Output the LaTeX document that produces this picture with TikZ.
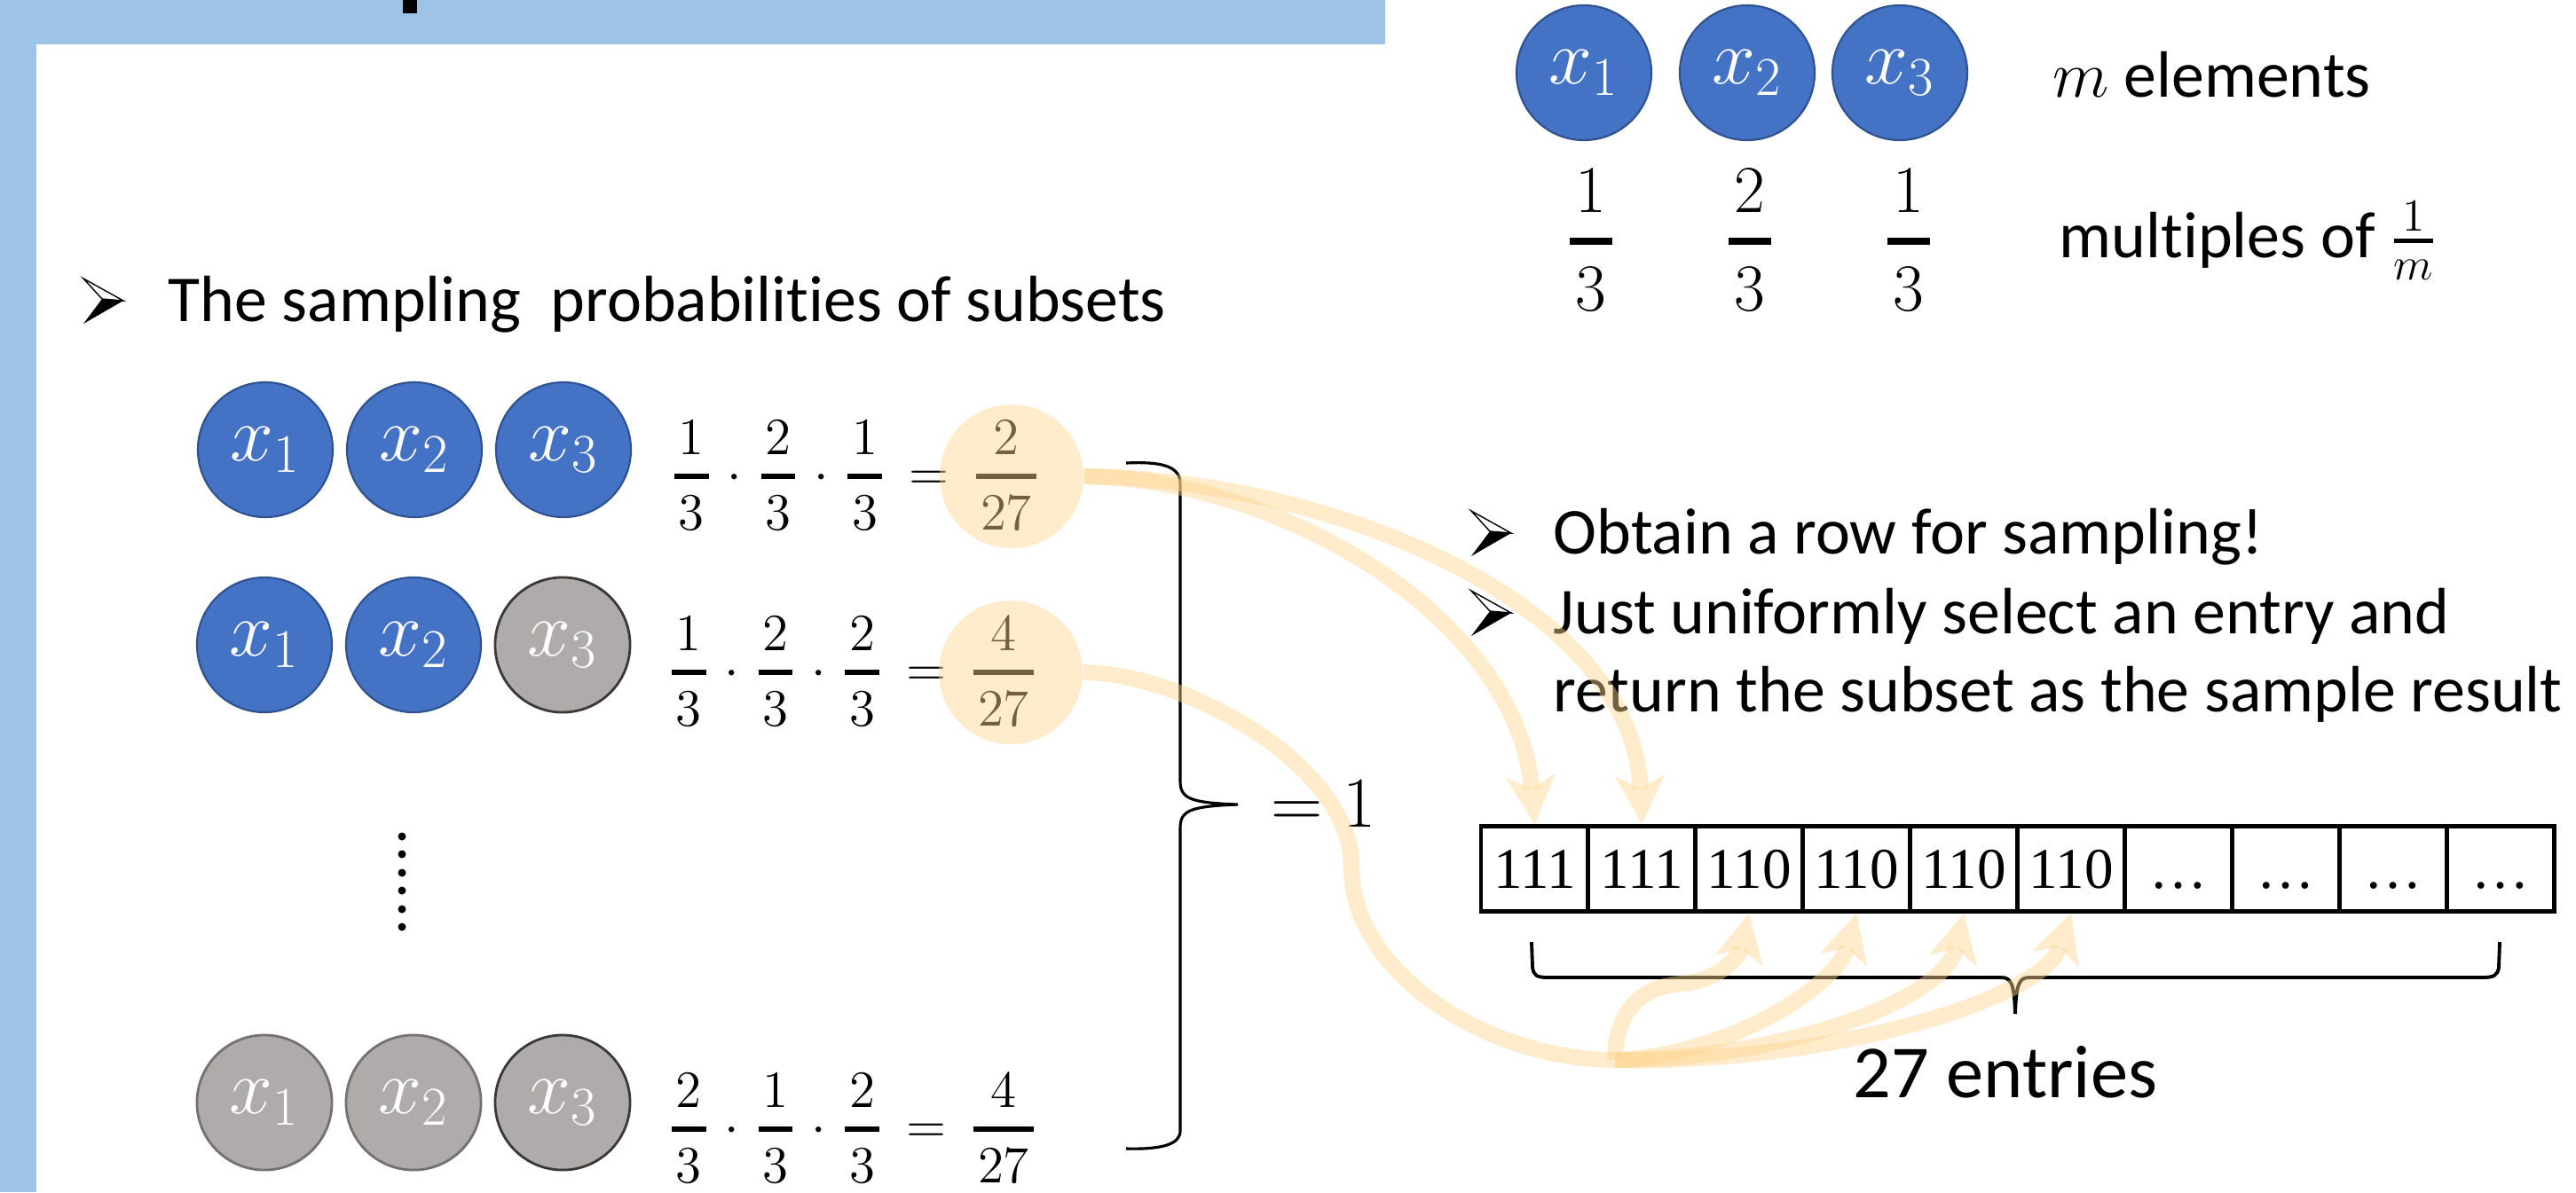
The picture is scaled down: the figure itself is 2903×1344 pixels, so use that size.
\RequirePackage{fix-cm}
\documentclass[tikz,border=0pt]{standalone}
\usepackage{amsmath}
\usepackage[no-math]{fontspec}
\setmainfont{Carlito}[Ligatures=NoCommon]
\newfontfamily\cellfont{Liberation Serif}
\usetikzlibrary{arrows.meta}

\definecolor{bandblue}{RGB}{157,195,230}
\definecolor{elemblue}{RGB}{68,114,196}
\definecolor{elemrim}{RGB}{47,82,143}
\definecolor{offgray}{RGB}{175,171,171}
\definecolor{offrim}{RGB}{59,56,56}
\definecolor{offrimlight}{RGB}{118,113,113}
\definecolor{hlorange}{RGB}{255,213,142}

% fraction with a heavy bar
\newcommand{\pf}[3][1.8pt]{\genfrac{}{}{#1}{0}{\mkern1.5mu#2\mkern1.5mu}{\mkern1.5mu#3\mkern1.5mu}}
% wider spacing round the dots and the equals sign
\newcommand{\probspace}{\medmuskip=5.2mu\relax\thickmuskip=8mu\relax}

% arrowhead bullet, top left corner given
\newcommand{\ptrbullet}[1]{%
  \begin{scope}[shift={#1}]
    \filldraw[fill=white, line width=0.4pt] (0,0) -- (45,25) -- (21,23) -- cycle;
    \fill (21,23) -- (45,25) -- (0,51) -- cycle;
  \end{scope}}

\tikzset{
  txt/.style={inner sep=0pt, font=\fontsize{21}{25}\selectfont},
  elem/.style={circle, minimum size=1.52cm, inner sep=0pt, fill=elemblue,
    draw=elemrim, line width=0.6pt, text=white, font=\fontsize{25}{29}\selectfont},
  offelem/.style={elem, fill=offgray, draw=offrim, line width=0.8pt},
  prob/.style={inner sep=0pt, anchor=base west, font=\fontsize{16.8}{20}\selectfont},
  weight/.style={inner sep=0pt, anchor=base, font=\fontsize{21.5}{26}\selectfont},
  cellbox/.style={draw, line width=1.4pt, minimum width=1.209cm, minimum height=0.955cm,
    inner sep=0pt, text height=12.6pt, text depth=0pt, font=\cellfont\fontsize{18.5}{22}\selectfont},
  hl/.style={circle, minimum size=1.62cm, inner sep=0pt, fill=hlorange, opacity=0.45},
  band/.style={draw=hlorange, opacity=0.45, line width=0.18cm},
  flow/.style={band, -{Stealth[length=0.55cm, width=0.56cm, inset=0.15cm, line width=0pt]}},
}

\begin{document}
\begin{tikzpicture}[x=0.01cm, y=-0.01cm]

  \useasboundingbox (0,0) rectangle (2903,1344);
  \fill[white] (0,0) rectangle (2903,1344);

  % --- title band ---
  \fill[bandblue] (0,0) rectangle (1561,50);
  \fill[bandblue] (0,0) rectangle (41,1344);
  \fill (454,0) rectangle (470,15);

  % --- the m elements ---
  \node[elem] (top1) at (1785,82) {$x_1$};
  \node[elem] (top2) at (1969,82) {$x_2$};
  \node[elem] (top3) at (2141,82) {$x_3$};
  \node[txt, anchor=base west] (melem) at (2313,109) {$m$ elements};

  \node[weight] (w1) at (1793,291) {$\pf[2.4pt]{1}{3}$};
  \node[weight] (w2) at (1972,291) {$\pf[2.4pt]{2}{3}$};
  \node[weight] (w3) at (2151,291) {$\pf[2.4pt]{1}{3}$};
  \node[txt, anchor=base west] (mult) at (2320,290) {multiples of $\genfrac{}{}{1.4pt}{1}{1}{m}$};

  % --- subsets ---
  \ptrbullet{(94,314)}
  \node[txt, anchor=base west] (subhead) at (189,362) {The sampling~ probabilities of subsets};

  \node[elem] (r1a) at (299,507) {$x_1$};
  \node[elem] (r1b) at (467,507) {$x_2$};
  \node[elem] (r1c) at (635,507) {$x_3$};
  \node[prob] (p1) at (755,552) {$\probspace\pf{1}{3}\cdot\pf{2}{3}\cdot\pf{1}{3}=\pf{2}{27}$};

  \node[elem] (r2a) at (298,727) {$x_1$};
  \node[elem] (r2b) at (466,727) {$x_2$};
  \node[offelem] (r2c) at (634,727) {$x_3$};
  \node[prob] (p2) at (752,773) {$\probspace\pf{1}{3}\cdot\pf{2}{3}\cdot\pf{2}{3}=\pf{4}{27}$};

  \fill (453,943) circle (4.5) (453,963) circle (4.5) (453,984) circle (4.5)
        (453,1004) circle (4.5) (453,1025) circle (4.5) (453,1045) circle (4.5);

  \node[offelem, draw=offrimlight] (r3a) at (298,1243) {$x_1$};
  \node[offelem, draw=offrimlight] (r3b) at (466,1243) {$x_2$};
  \node[offelem] (r3c) at (634,1243) {$x_3$};
  \node[prob] (p3) at (752,1288) {$\probspace\pf{2}{3}\cdot\pf{1}{3}\cdot\pf{2}{3}=\pf{4}{27}$};

  % --- sum brace ---
  \draw[line width=0.9pt] (1269,522) .. controls (1310,520) and (1330,526) .. (1330,545)
    -- (1330,880) .. controls (1330,900) and (1340,905) .. (1395,907)
    .. controls (1340,909) and (1330,914) .. (1330,934)
    -- (1330,1275) .. controls (1330,1290) and (1310,1296) .. (1269,1295);
  \node[inner sep=0pt, anchor=base west, font=\fontsize{23}{27}\selectfont] (total) at (1432,932) {$=1$};

  % --- the row ---
  \ptrbullet{(1658,576)}
  \node[txt, anchor=base west] (rowhint) at (1750,624) {Obtain a row for sampling!};
  \ptrbullet{(1658,666)}
  \node[txt, anchor=base west] (pickhint) at (1750,714) {Just uniformly select an entry and};
  \node[txt, anchor=base west] (pickhint2) at (1750,802) {return the subset as the sample result};

  \node[cellbox] (cell1) at (1729.45,979.5) {111};
  \node[cellbox] (cell2) at (1850.35,979.5) {111};
  \node[cellbox] (cell3) at (1971.25,979.5) {110};
  \node[cellbox] (cell4) at (2092.15,979.5) {110};
  \node[cellbox] (cell5) at (2213.05,979.5) {110};
  \node[cellbox] (cell6) at (2333.95,979.5) {110};
  \node[cellbox] (cell7) at (2454.85,979.5) {\dots};
  \node[cellbox] (cell8) at (2575.75,979.5) {\dots};
  \node[cellbox] (cell9) at (2696.65,979.5) {\dots};
  \node[cellbox] (cell10) at (2817.55,979.5) {\dots};

  % --- entries brace ---
  \draw[line width=1.1pt] (1726,1062) -- (1727,1090) .. controls (1728,1100) and (1732,1102) .. (1745,1102)
    -- (2255,1102) .. controls (2266,1102) and (2270,1108) .. (2271,1143)
    .. controls (2272,1108) and (2276,1102) .. (2287,1102)
    -- (2797,1102) .. controls (2810,1102) and (2815,1100) .. (2816,1090) -- (2817,1062);
  \node[txt, anchor=base, font=\fontsize{24}{28}\selectfont] (entries) at (2260,1237) {27 entries};

  % --- highlights ---
  \node[hl] (hlA) at (1140,537) {};
  \node[hl] (hlB) at (1139,758) {};

  % --- 2/27 goes to two entries ---
  \draw[flow] (hlA.east) .. controls (1450,540) and (1710,700) .. (cell1.north);
  \draw[flow] (hlA.east) .. controls (1500,540) and (1840,680) .. (cell2.north);

  % --- 4/27 goes to four entries ---
  \coordinate (fork) at (1820,1195);
  \draw[band] (hlB.east) .. controls (1330,758) and (1523,860) .. (1523,977)
    .. controls (1523,1100) and (1680,1195) .. (fork);
  \draw[flow] (fork) .. controls (1820,1140) and (1850,1112) .. (1895,1109)
    .. controls (1935,1106) and (1960,1080) .. (cell3.south);
  \draw[flow] (fork) .. controls (1950,1190) and (2070,1110) .. (cell4.south);
  \draw[flow] (fork) .. controls (2000,1195) and (2190,1130) .. (cell5.south);
  \draw[flow] (fork) .. controls (2050,1200) and (2300,1130) .. (cell6.south);

\end{tikzpicture}
\end{document}
